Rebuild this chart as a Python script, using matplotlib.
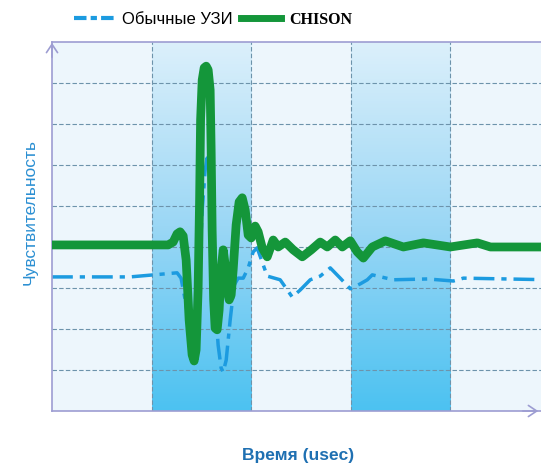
import numpy as np
import matplotlib
matplotlib.use("Agg")
import matplotlib.pyplot as plt
from matplotlib.colors import LinearSegmentedColormap
from matplotlib.lines import Line2D
from matplotlib.patches import FancyArrowPatch

# Sensitivity curves (x in time cells, y in grid units)
chison_x = [0.0, 1.166, 1.216, 1.256, 1.286, 1.317, 1.347, 1.377, 1.407, 1.427,
            1.447, 1.467, 1.482, 1.492, 1.508, 1.528, 1.548, 1.568, 1.588, 1.598,
            1.608, 1.623, 1.638, 1.658, 1.678, 1.698, 1.719, 1.739, 1.759, 1.779,
            1.799, 1.819, 1.849, 1.879, 1.910, 1.940, 1.970, 2.000, 2.040, 2.070,
            2.111, 2.161, 2.221, 2.271, 2.342, 2.422, 2.513, 2.603, 2.693, 2.764,
            2.844, 2.915, 2.995, 3.065, 3.126, 3.216, 3.347, 3.528, 3.729, 4.000,
            4.271, 4.402, 5.0]
chison_y = [4.05, 4.05, 4.12, 4.32, 4.37, 4.27, 3.68, 2.22, 1.37, 1.22,
            1.49, 2.95, 5.15, 7.10, 8.07, 8.37, 8.41, 8.32, 7.83, 6.37,
            4.41, 2.71, 2.02, 1.98, 2.46, 3.44, 3.93, 3.56, 2.95, 2.71,
            2.83, 3.44, 4.54, 5.10, 5.20, 4.90, 4.29, 4.22, 4.51, 4.37,
            3.98, 3.76, 4.17, 4.00, 4.12, 3.93, 3.76, 3.93, 4.12, 4.00,
            4.17, 4.00, 4.15, 3.88, 3.73, 4.00, 4.15, 4.00, 4.10, 4.00,
            4.10, 4.00, 4.00]

usual_x = [0.0, 0.784, 1.256, 1.296, 1.337, 1.377, 1.417, 1.447, 1.477, 1.508,
           1.538, 1.558, 1.578, 1.608, 1.638, 1.668, 1.698, 1.719, 1.749, 1.789,
           1.829, 1.869, 1.920, 1.970, 2.020, 2.060, 2.111, 2.161, 2.291, 2.412,
           2.492, 2.593, 2.693, 2.794, 2.894, 2.995, 3.095, 3.166, 3.216, 3.427,
           3.769, 4.030, 4.131, 5.0]
usual_y = [3.27, 3.27, 3.37, 3.24, 2.71, 2.10, 1.73, 2.10, 3.20, 4.90,
           5.88, 6.17, 5.88, 4.41, 2.71, 1.61, 1.05, 0.95, 1.24, 2.22,
           3.07, 3.24, 3.24, 3.49, 3.88, 3.98, 3.63, 3.29, 3.20, 2.78,
           2.95, 3.20, 3.29, 3.49, 3.24, 2.98, 3.10, 3.20, 3.32, 3.20,
           3.22, 3.17, 3.24, 3.20]

labels = ["Обычные УЗИ", "CHISON"]

fig = plt.figure(figsize=(5.41, 4.69), dpi=100)
fig.patch.set_facecolor("white")
ax = fig.add_axes([0.0961, 0.1237, 0.9205, 0.7868])
ax.set_xlim(0, 5)
ax.set_ylim(0, 9)
ax.set_facecolor("#edf6fc")

# gradient columns
grad = LinearSegmentedColormap.from_list("g", ["#4cc2f1", "#9bd7f5", "#dcf0fb"])
g = np.linspace(0, 1, 256).reshape(-1, 1)
for x0 in (1, 3):
    ax.imshow(g, extent=(x0, x0 + 1, 0, 9), origin="lower", cmap=grad,
              aspect="auto", zorder=0.5)

for yv in range(1, 9):
    ax.axhline(yv, color="#6d93ab", lw=0.8, ls=(0, (4, 2)), zorder=1)
for xv in range(1, 5):
    ax.axvline(xv, color="#6d93ab", lw=0.8, ls=(0, (4, 2)), zorder=1)

ax.plot(usual_x, usual_y, color="#1c9be0", lw=2.5,
        dashes=(6, 2, 1.5, 2), solid_joinstyle="round", zorder=2)
ax.plot(chison_x, chison_y, color="#14963a", lw=6.3, solid_joinstyle="round",
        solid_capstyle="round", zorder=3)

for s in ["left", "bottom", "top"]:
    ax.spines[s].set_color("#9d9dd2")
    ax.spines[s].set_linewidth(1.2)
ax.spines["right"].set_visible(False)
ax.set_xticks([])
ax.set_yticks([])

# axis arrows
fig.patches.append(FancyArrowPatch(
    (52 / 541, 1 - 60 / 469), (52 / 541, 1 - 40 / 469), transform=fig.transFigure,
    arrowstyle="->,head_length=6,head_width=4", color="#9d9dd2", lw=1.2))
fig.patches.append(FancyArrowPatch(
    (520 / 541, 1 - 411 / 469), (541 / 541, 1 - 411 / 469), transform=fig.transFigure,
    arrowstyle="->,head_length=6,head_width=4", color="#9d9dd2", lw=1.2))

fig.text(30 / 541, 1 - 212 / 469, "Чувствительность", rotation=90,
         ha="center", va="center", color="#2b8fd2", fontsize=12.5,
         family="Liberation Sans")
fig.text(298 / 541, 1 - 455 / 469, "Время (usec)", ha="center", va="center",
         color="#1f70b2", fontsize=12.5, fontweight="bold",
         family="Liberation Sans")

handles = [Line2D([], [], color="#1c9be0", lw=3, dashes=(3, 1, 1.5, 1)),
           Line2D([], [], color="#14963a", lw=5)]
leg = fig.legend(handles, labels, loc="center", ncol=2, frameon=False,
                 bbox_to_anchor=(213 / 541, 1 - 20 / 469), handlelength=2.4,
                 handletextpad=0.5, columnspacing=0.5,
                 prop={"family": "Liberation Sans", "size": 12})
leg.get_texts()[1].set_fontfamily("Liberation Serif")
leg.get_texts()[1].set_fontweight("bold")
leg.get_texts()[1].set_fontsize(11.5)

fig.savefig("out.png", dpi=100, facecolor="white")
